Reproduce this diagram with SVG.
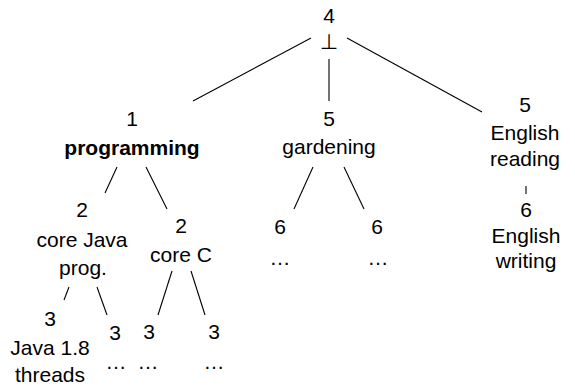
<svg xmlns="http://www.w3.org/2000/svg" width="575" height="390" viewBox="0 0 575 390">
<style>
text{font-family:"Liberation Sans",Arial,sans-serif;font-size:21px;fill:#000;text-anchor:middle}
.b{font-weight:bold}
.bot{font-family:"DejaVu Sans",sans-serif;font-size:21px}
.e line{stroke:#000;stroke-width:1.1}
</style>
<rect width="575" height="390" fill="#fff"/>
<g class="e" id="connectors">
<line x1="311" y1="38" x2="193" y2="101"/>
<line x1="329" y1="59" x2="329" y2="101"/>
<line x1="347" y1="38" x2="482" y2="112"/>
<line x1="117" y1="167" x2="105" y2="193"/>
<line x1="146" y1="167" x2="167" y2="209"/>
<line x1="313" y1="167" x2="294" y2="209"/>
<line x1="344" y1="167" x2="364" y2="209"/>
<line x1="526" y1="186" x2="526" y2="194"/>
<line x1="69" y1="287" x2="64" y2="300"/>
<line x1="97" y1="287" x2="107" y2="315"/>
<line x1="172" y1="271" x2="158" y2="315"/>
<line x1="191" y1="271" x2="205" y2="315"/>
</g>
<g id="root"><text x="329" y="23">4</text><text class="bot" x="329" y="49">⊥</text></g>
<g id="programming"><text x="132" y="126">1</text><text class="b" x="132" y="155">programming</text></g>
<g id="gardening"><text x="329" y="126">5</text><text x="329" y="154">gardening</text></g>
<g id="english-reading"><text x="525" y="112">5</text><text x="525" y="140">English</text><text x="525" y="166">reading</text></g>
<g id="english-writing"><text x="526" y="217">6</text><text x="526" y="243">English</text><text x="526" y="268">writing</text></g>
<g id="core-java"><text x="82" y="217">2</text><text x="82" y="247">core Java</text><text x="83" y="275">prog.</text></g>
<g id="core-c"><text x="181" y="233">2</text><text x="181" y="262">core C</text></g>
<g id="garden-1"><text x="280" y="234">6</text><text x="280" y="265">…</text></g>
<g id="garden-2"><text x="377" y="234">6</text><text x="378" y="265">…</text></g>
<g id="java-threads"><text x="50" y="326">3</text><text x="50" y="355">Java 1.8</text><text x="50" y="382">threads</text></g>
<g id="java-more"><text x="115" y="340">3</text><text x="116" y="369">…</text></g>
<g id="c-1"><text x="149" y="339">3</text><text x="148" y="369">…</text></g>
<g id="c-2"><text x="214" y="339">3</text><text x="214" y="369">…</text></g>
</svg>
